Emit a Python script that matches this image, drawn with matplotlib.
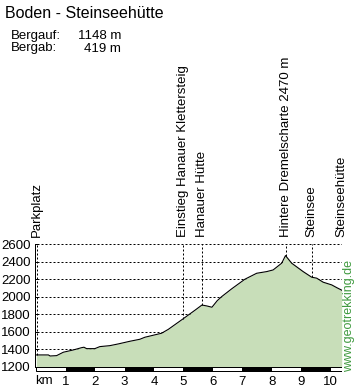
import numpy as np
import matplotlib
matplotlib.use('Agg')
from matplotlib import pyplot as plt
from matplotlib.patches import Rectangle

plt.rcParams['font.family'] = ['Liberation Sans', 'DejaVu Sans']

title = 'Boden - Steinseehütte'
gain_m = 1148
loss_m = 419

# profile (km, elevation in m)
km = [0.0, 0.41, 0.47, 0.69, 0.92, 1.26, 1.54, 1.62, 1.71, 1.99, 2.16, 2.50, 2.79,
      3.18, 3.52, 3.69, 4.26, 4.49, 4.54, 5.00, 5.39, 5.63, 5.79, 5.97, 6.15, 6.30,
      6.64, 7.09, 7.49, 7.83, 8.05, 8.34, 8.47, 8.68, 9.07, 9.36, 9.53, 9.75, 10.04,
      10.21, 10.38]
elev = [1335, 1335, 1323, 1327, 1366, 1392, 1418, 1423, 1407, 1407, 1430, 1441, 1461,
        1491, 1514, 1537, 1583, 1628, 1640, 1750, 1845, 1905, 1895, 1880, 1955, 2001,
        2090, 2200, 2268, 2287, 2306, 2383, 2470, 2383, 2287, 2223, 2212, 2166, 2135,
        2104, 2075]

waypoints = ['Parkplatz', 'Einstieg Hanauer Klettersteig', 'Hanauer Hütte',
             'Hintere Dremelscharte 2470 m', 'Steinsee', 'Steinseehütte']
waypoint_km = [0.03, 5.0, 5.64, 8.47, 9.36, 10.38]

yticks = [1200, 1400, 1600, 1800, 2000, 2200, 2400, 2600]
xticks = [1, 2, 3, 4, 5, 6, 7, 8, 9, 10]

fig = plt.figure(figsize=(3.57, 3.91), dpi=100)
ax = fig.add_axes([35 / 357, 19 / 391, 307 / 357, 127.8 / 391])
ax.set_xlim(-0.044, 10.39)
ax.set_ylim(1140, 2600)

dot = (0, (2, 2))
for y in yticks[1:]:
    ax.plot([0.02, 10.38], [y, y], color='black', lw=0.72, ls=dot, zorder=1)

ax.fill_between(km, 1200, elev, color='#c8deb9', zorder=2, lw=0)
ax.plot(km, elev, color='black', lw=0.8, zorder=3)

for name, k in zip(waypoints, waypoint_km):
    ax.plot([k, k], [np.interp(k, km, elev), 2600], color='black', lw=0.72, ls=dot,
            zorder=4)
    ax.annotate(name, xy=(k, 2600), xytext=(0, 5), textcoords='offset points',
                rotation=90, ha='center', va='bottom', fontsize=9.5,
                annotation_clip=False)

# km scale bar
ax.add_patch(Rectangle((0, 1147), 10.38, 50, facecolor='white', edgecolor='black',
                       lw=0.72, zorder=3))
for k in range(1, 10, 2):
    ax.add_patch(Rectangle((k, 1147), 1, 50, facecolor='black', lw=0, zorder=4))

for side in ['top', 'right', 'bottom']:
    ax.spines[side].set_visible(False)
ax.spines['left'].set_bounds(1200, 2600)
ax.spines['left'].set_linewidth(0.72)
ax.set_yticks(yticks)
ax.tick_params(axis='y', direction='in', length=2.2, width=0.72, pad=3, labelsize=9.5)
ax.set_xticks(xticks)
ax.tick_params(axis='x', length=0, pad=3, labelsize=9.5)
ax.set_xticklabels([str(t) for t in xticks])

fig.text(44 / 357, 1 - 381 / 391, 'km', ha='center', va='center', fontsize=9.5)
fig.text(5 / 357, 1 - 14 / 391, title, ha='left', va='center', fontsize=11.5)
fig.text(11 / 357, 1 - 36 / 391, 'Bergauf:', ha='left', va='center', fontsize=9.5)
fig.text(121 / 357, 1 - 36 / 391, f'{gain_m} m', ha='right', va='center', fontsize=9.5)
fig.text(11 / 357, 1 - 48.5 / 391, 'Bergab:', ha='left', va='center', fontsize=9.5)
fig.text(121 / 357, 1 - 48.5 / 391, f'{loss_m} m', ha='right', va='center', fontsize=9.5)
fig.text(349 / 357, 1 - 316 / 391, 'www.geotrekking.de', rotation=90, ha='center',
         va='center', fontsize=9, color='#3f9a3f')

fig.savefig('out.png', dpi=100)
